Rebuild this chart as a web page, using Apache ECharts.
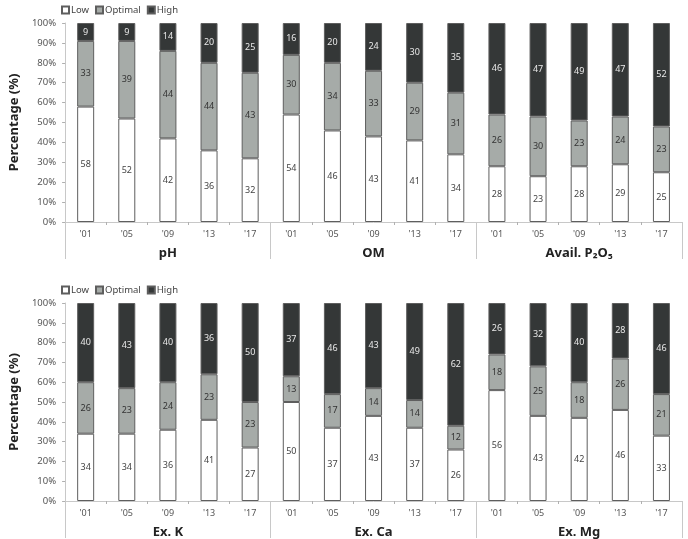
<!DOCTYPE html>
<html>
<head>
<meta charset="utf-8">
<script src="https://cdn.jsdelivr.net/npm/echarts@6/dist/echarts.min.js"></script>
<style>
  html, body { margin: 0; padding: 0; background: #fff; }
  #chart { width: 688px; height: 539px; }
</style>
</head>
<body>
<div id="chart"></div>
<script>
// years per group, group names per panel
const years = ["'01", "'05", "'09", "'13", "'17"]
const groupsTop = ['pH', 'OM', 'Avail. P₂O₅']
const groupsBottom = ['Ex. K', 'Ex. Ca', 'Ex. Mg']
const yTicks = [0, 10, 20, 30, 40, 50, 60, 70, 80, 90, 100]

// percentages (Low / Optimal / High), 5 years x 3 groups
const lowTop = [58, 52, 42, 36, 32, 54, 46, 43, 41, 34, 28, 23, 28, 29, 25]
const optTop = [33, 39, 44, 44, 43, 30, 34, 33, 29, 31, 26, 30, 23, 24, 23]
const highTop = [9, 9, 14, 20, 25, 16, 20, 24, 30, 35, 46, 47, 49, 47, 52]

const lowBottom = [34, 34, 36, 41, 27, 50, 37, 43, 37, 26, 56, 43, 42, 46, 33]
const optBottom = [26, 23, 24, 23, 23, 13, 17, 14, 14, 12, 18, 25, 18, 26, 21]
const highBottom = [40, 43, 40, 36, 50, 37, 46, 43, 49, 62, 26, 32, 40, 28, 46]

const FONT = '"Noto Sans", "Open Sans", sans-serif'
const colors = { Low: '#ffffff', Optimal: '#a6aba8', High: '#343737' }
const labelColors = { Low: '#444', Optimal: '#333', High: '#e8e8e8' }

// unique category keys: group + year
function cats(groups) {
  const out = []
  groups.forEach(g => years.forEach(y => out.push(g + '|' + y)))
  return out
}

const chart = echarts.init(document.getElementById('chart'))

function xAxes(gridIndex, groups) {
  return [
    {
      type: 'category',
      gridIndex: gridIndex,
      position: 'bottom',
      data: cats(groups),
      axisLine: { show: true, lineStyle: { color: '#c8c8c8', width: 1 } },
      axisTick: { show: true, length: 3, lineStyle: { color: '#b0b0b0' } },
      axisLabel: {
        formatter: v => v.split('|')[1],
        fontSize: 9, color: '#555', fontFamily: FONT, margin: 8
      }
    },
    {
      // group names, ticks double as the separators
      type: 'category',
      gridIndex: gridIndex,
      position: 'bottom',
      data: groups,
      axisLine: { show: false },
      axisTick: { show: true, length: 37, lineStyle: { color: '#c8c8c8' } },
      axisLabel: {
        fontSize: 13, fontWeight: 'bold', color: '#222', fontFamily: FONT, margin: 25
      }
    }
  ]
}

function yAxis(gridIndex) {
  return {
    type: 'value',
    gridIndex: gridIndex,
    min: 0, max: 100, interval: 10,
    name: 'Percentage (%)',
    nameLocation: 'middle',
    nameGap: 43,
    nameTextStyle: { fontSize: 13, fontWeight: 'bold', color: '#222', fontFamily: FONT },
    axisLine: { show: true, lineStyle: { color: '#c8c8c8' } },
    axisTick: { show: true, length: 3, lineStyle: { color: '#b0b0b0' } },
    splitLine: { show: false },
    axisLabel: {
      formatter: v => yTicks.includes(v) ? v + '%' : '',
      fontSize: 9.5, color: '#555', fontFamily: FONT, margin: 9
    }
  }
}

function makeSeries(name, data, idx, stack) {
  return {
    name: name,
    type: 'bar',
    stack: stack,
    xAxisIndex: idx * 2,
    yAxisIndex: idx,
    barWidth: 17,
    data: data,
    itemStyle: { color: colors[name], borderColor: '#5e5e5e', borderWidth: 1 },
    label: {
      show: true, position: 'inside',
      fontSize: 9, color: labelColors[name], fontFamily: FONT
    }
  }
}

function legend(top) {
  return {
    top: top, left: 56,
    data: ['Low', 'Optimal', 'High'],
    icon: 'rect',
    itemWidth: 7, itemHeight: 7, itemGap: 6,
    selectedMode: false,
    textStyle: { fontSize: 9.5, color: '#444', fontFamily: FONT, padding: [0, 0, 0, -3] }
  }
}

const option = {
  animation: false,
  backgroundColor: '#fff',
  legend: [legend(0), legend(280)],
  grid: [
    { left: 58, right: 6, top: 23, height: 199 },
    { left: 58, right: 6, top: 303, height: 199 }
  ],
  xAxis: xAxes(0, groupsTop).concat(xAxes(1, groupsBottom)),
  yAxis: [yAxis(0), yAxis(1)],
  series: [
    makeSeries('Low', lowTop, 0, 'top'),
    makeSeries('Optimal', optTop, 0, 'top'),
    makeSeries('High', highTop, 0, 'top'),
    makeSeries('Low', lowBottom, 1, 'bottom'),
    makeSeries('Optimal', optBottom, 1, 'bottom'),
    makeSeries('High', highBottom, 1, 'bottom')
  ]
}

chart.setOption(option)
</script>
</body>
</html>
